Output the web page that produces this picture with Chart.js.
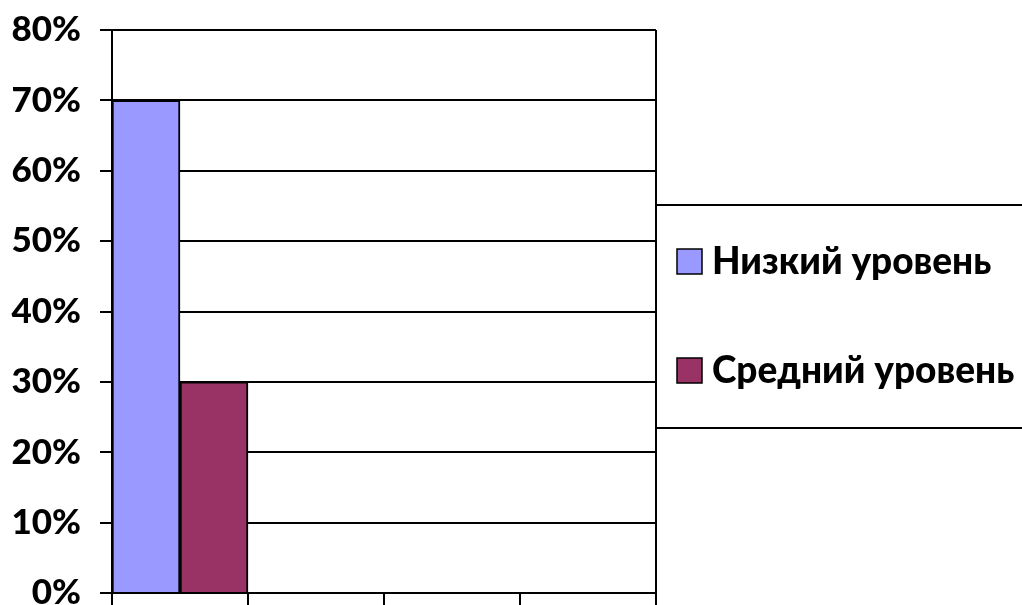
<!DOCTYPE html>
<html>
<head>
<meta charset="utf-8">
<script src="https://cdn.jsdelivr.net/npm/chart.js@4/dist/chart.umd.min.js"></script>
<style>
  html, body { margin: 0; padding: 0; background: #fff; }
  #wrap { width: 1022px; height: 605px; position: relative; }
</style>
</head>
<body>
<div id="wrap"><canvas id="chart"></canvas></div>
<script>
var categories = ['1', '2', '3', '4'];
var seriesNames = ['Низкий уровень', 'Средний уровень'];
var lowLevel = [70, null, null, null];
var midLevel = [30, null, null, null];
var yTicks = [0, 10, 20, 30, 40, 50, 60, 70, 80];

var labelFont = { family: 'Lato', weight: '900', size: 35 };

// legend drawn as an Excel style box glued to the right side of the plot
var boxLegend = {
  id: 'boxLegend',
  afterDraw: function(chart) {
    var ctx = chart.ctx;
    var area = chart.chartArea;
    var left = area.right;
    var top = 205, bottom = 428;
    ctx.save();
    ctx.lineWidth = 2;
    ctx.strokeStyle = '#000';
    ctx.strokeRect(left, top, chart.width - left + 10, bottom - top);

    // right border of the plot area
    ctx.beginPath();
    ctx.moveTo(area.right, area.top);
    ctx.lineTo(area.right, area.bottom);
    ctx.stroke();

    ctx.font = '900 37px Lato';
    ctx.textBaseline = 'middle';
    ctx.textAlign = 'left';
    chart.data.datasets.forEach(function(ds, i) {
      var cy = 261 + i * 109;
      ctx.fillStyle = ds.backgroundColor;
      ctx.fillRect(left + 21, cy - 12, 25, 25);
      ctx.lineWidth = 1.5;
      ctx.strokeRect(left + 21, cy - 12, 25, 25);
      ctx.fillStyle = '#000';
      ctx.fillText(ds.label, left + 56, cy + 1);
    });
    ctx.restore();
  }
};

new Chart(document.getElementById('chart'), {
  type: 'bar',
  data: {
    labels: categories,
    datasets: [{
      label: seriesNames[0],
      data: lowLevel,
      backgroundColor: '#9999FF',
      borderColor: '#000',
      borderWidth: 2,
      categoryPercentage: 1,
      barPercentage: 1
    }, {
      label: seriesNames[1],
      data: midLevel,
      backgroundColor: '#993366',
      borderColor: '#000',
      borderWidth: 2,
      categoryPercentage: 1,
      barPercentage: 1
    }]
  },
  options: {
    responsive: true,
    maintainAspectRatio: false,
    animation: false,
    layout: { padding: { top: 30, right: 366, left: 0, bottom: 0 } },
    plugins: {
      legend: { display: false },
      tooltip: { enabled: false }
    },
    scales: {
      x: {
        grid: {
          offset: true,
          drawOnChartArea: false,
          drawTicks: true,
          tickLength: 12,
          color: '#000',
          lineWidth: 2
        },
        border: { color: '#000', width: 2 },
        ticks: { display: false }
      },
      y: {
        min: 0,
        max: 80,
        afterBuildTicks: function(scale) {
          scale.ticks = yTicks.map(function(v) { return { value: v }; });
        },
        afterFit: function(scale) {
          scale.width = 112;
          scale.paddingTop = 0;
          scale.paddingBottom = 0;
        },
        grid: {
          color: '#000',
          lineWidth: 2,
          tickLength: 12
        },
        border: { color: '#000', width: 2 },
        ticks: {
          color: '#000',
          font: labelFont,
          padding: 19,
          callback: function(v) { return v + '%'; }
        }
      }
    }
  },
  plugins: [boxLegend]
});
</script>
</body>
</html>
